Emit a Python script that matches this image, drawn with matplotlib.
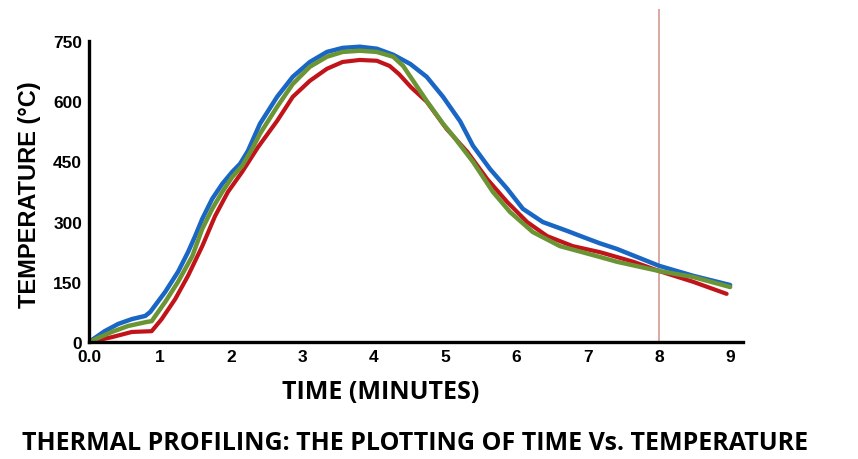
import matplotlib
matplotlib.use("Agg")
import matplotlib.pyplot as plt

# time (minutes) and temperature (deg C)
blue_t = [0, 0.22, 0.41, 0.60, 0.79, 0.86, 1.07, 1.25, 1.39, 1.49, 1.59, 1.73, 1.87,
          2.01, 2.12, 2.23, 2.40, 2.64, 2.86, 3.10, 3.34, 3.56, 3.80, 4.04, 4.27,
          4.51, 4.74, 4.97, 5.21, 5.39, 5.63, 5.87, 6.09, 6.37, 6.71, 6.93, 7.17,
          7.41, 8.0, 8.48, 9.0]
blue_v = [0, 27, 45, 57, 65, 75, 125, 175, 224, 264, 307, 357, 394,
          424, 444, 476, 544, 611, 661, 698, 723, 733, 736, 731, 716,
          693, 661, 611, 550, 489, 431, 382, 332, 299, 277, 262, 246,
          232, 190, 165, 142]

green_t = [0, 0.32, 0.55, 0.81, 0.88, 1.07, 1.25, 1.45, 1.59, 1.73, 1.87, 2.01,
           2.15, 2.29, 2.40, 2.64, 2.86, 3.10, 3.34, 3.56, 3.80, 4.04, 4.27, 4.41,
           4.55, 4.74, 4.97, 5.11, 5.39, 5.67, 5.91, 6.23, 6.61, 7.17, 7.41, 8.0,
           8.48, 9.0]
green_v = [0, 25, 40, 50, 52, 100, 150, 214, 282, 332, 374, 411,
           439, 481, 519, 586, 643, 686, 711, 723, 726, 723, 711, 688,
           651, 601, 544, 514, 449, 374, 324, 274, 239, 212, 200, 177,
           162, 137]

red_t = [0, 0.32, 0.60, 0.88, 1.02, 1.21, 1.39, 1.59, 1.77, 1.95, 2.15, 2.37,
         2.64, 2.86, 3.10, 3.34, 3.56, 3.80, 4.04, 4.22, 4.35, 4.52, 4.74, 5.02,
         5.31, 5.59, 5.87, 6.15, 6.43, 6.79, 7.17, 7.27, 7.64, 8.0, 8.48, 8.95]
red_v = [0, 12, 25, 27, 57, 107, 165, 239, 314, 374, 424, 485,
         551, 611, 651, 681, 698, 703, 701, 688, 668, 635, 599, 531,
         474, 406, 349, 299, 264, 239, 224, 219, 200, 177, 150, 120]

x_ticks = [0, 1, 2, 3, 4, 5, 6, 7, 8, 9]
x_labels = ["0.0", "1", "2", "3", "4", "5", "6", "7", "8", "9"]
y_ticks = [0, 150, 300, 450, 600, 750]
marker_t = 8

fig = plt.figure(figsize=(8.58, 4.60), dpi=100)
ax = fig.add_axes([89/858, 1 - 343/460, (743 - 89)/858, 333/460])

ax.plot(blue_t, blue_v, color="#1a66c4", lw=3.2, solid_capstyle="round",
        solid_joinstyle="round", zorder=3)
ax.plot(green_t, green_v, color="#6b9535", lw=3.2, solid_capstyle="round",
        solid_joinstyle="round", zorder=4)
ax.plot(red_t, red_v, color="#c0141a", lw=3.0, solid_capstyle="round",
        solid_joinstyle="round", zorder=2)
ax.axvline(marker_t, color="#d49a94", lw=1.2, zorder=1)

ax.set_xlim(0, 9.18)
ax.set_ylim(0, 830)
for s in ["top", "right"]:
    ax.spines[s].set_visible(False)
ax.spines["left"].set_bounds(0, 750)
for s in ["left", "bottom"]:
    ax.spines[s].set_linewidth(2.4)
    ax.spines[s].set_zorder(5)

ax.set_xticks(x_ticks)
ax.set_xticklabels(x_labels)
ax.set_yticks(y_ticks)
ax.tick_params(length=0, labelsize=12.5, pad=5)
for lab in ax.get_xticklabels() + ax.get_yticklabels():
    lab.set_fontweight("bold")
    lab.set_family("Liberation Sans")

ax.set_ylabel("TEMPERATURE (°C)", fontsize=17, fontweight="bold", family="Liberation Sans")
ax.yaxis.set_label_coords(-0.073, 0.444)
fig.text(381/858, 1 - 393/460, "TIME (MINUTES)", ha="center", va="center",
         fontsize=18, fontweight="bold", family="Open Sans")
fig.text(415/858, 1 - 444/460, "THERMAL PROFILING: THE PLOTTING OF TIME Vs. TEMPERATURE",
         ha="center", va="center", fontsize=18, fontweight="bold", family="Open Sans")

fig.savefig("out.png", dpi=100)
